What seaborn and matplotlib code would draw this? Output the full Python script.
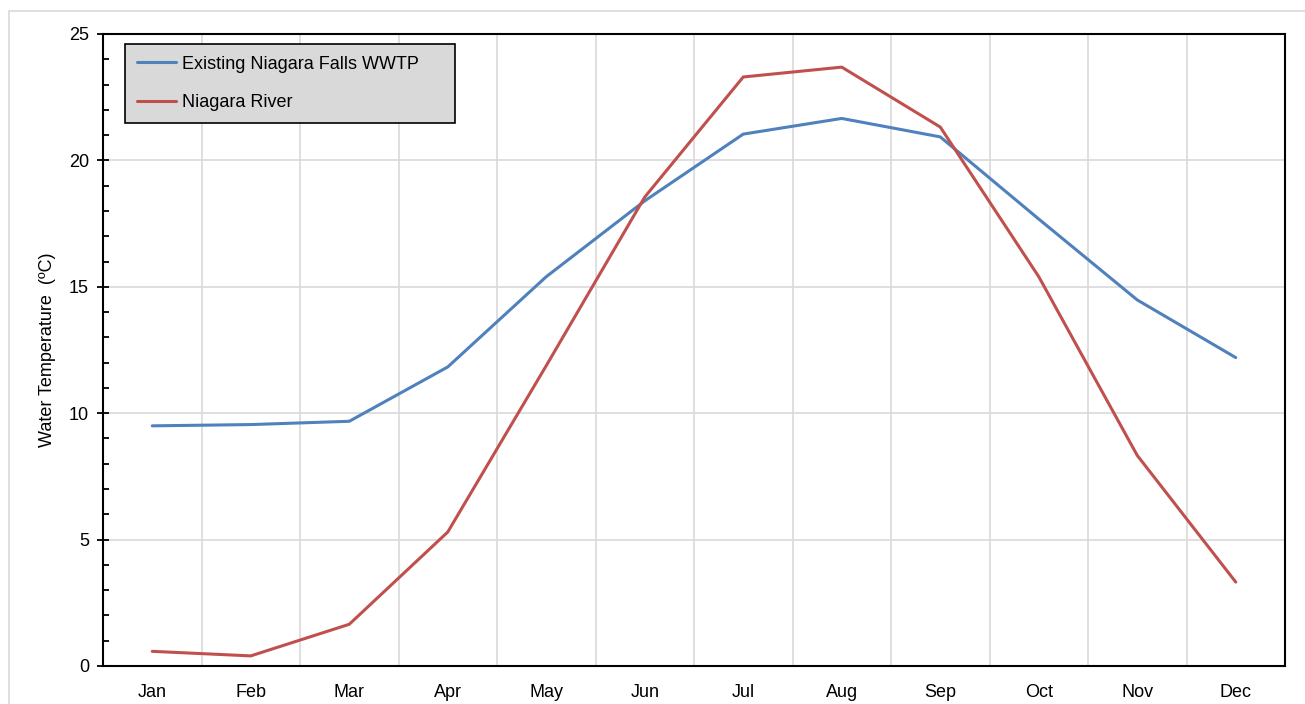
import numpy as np
import pandas as pd
import matplotlib
matplotlib.use('Agg')
import matplotlib.pyplot as plt
import seaborn as sns
from matplotlib.ticker import MultipleLocator, FixedLocator
from matplotlib.patches import Rectangle

# data
months = ['Jan', 'Feb', 'Mar', 'Apr', 'May', 'Jun', 'Jul', 'Aug', 'Sep', 'Oct', 'Nov', 'Dec']
wwtp = [9.50, 9.55, 9.68, 11.83, 15.40, 18.40, 21.04, 21.66, 20.93, 17.68, 14.48, 12.20]
river = [0.58, 0.40, 1.65, 5.30, 11.88, 18.55, 23.30, 23.69, 21.32, 15.40, 8.33, 3.32]
series_names = ['Existing Niagara Falls WWTP', 'Niagara River']
colors = ['#4f81bd', '#c0504d']

df = pd.DataFrame({
    'month': months * 2,
    'temp': wwtp + river,
    'series': [series_names[0]] * 12 + [series_names[1]] * 12,
})

sns.set_style('white')
plt.rcParams['font.family'] = ['Liberation Sans', 'DejaVu Sans']
plt.rcParams['text.color'] = 'black'
plt.rcParams['axes.labelcolor'] = 'black'
plt.rcParams['xtick.color'] = 'black'
plt.rcParams['ytick.color'] = 'black'

fig = plt.figure(figsize=(13.05, 7.04), dpi=100)
ax = fig.add_axes([103 / 1305, 1 - 666 / 704, (1285 - 103) / 1305, (666 - 34) / 704])

# light frame around the chart area
fig.patches.append(Rectangle((9 / 1305, -0.1), 1.2, 1 - 11 / 704 + 0.1, transform=fig.transFigure,
                             fill=False, edgecolor='#d9d9d9', linewidth=1.2, zorder=0))

sns.lineplot(data=df, x='month', y='temp', hue='series', palette=colors,
             linewidth=2.2, ax=ax, sort=False)

ax.set_xlim(-0.5, 11.5)
ax.set_ylim(0, 25)
ax.yaxis.set_major_locator(MultipleLocator(5))
ax.yaxis.set_minor_locator(MultipleLocator(1))
ax.xaxis.set_major_locator(FixedLocator(np.arange(12)))
ax.set_xticklabels(months)
ax.xaxis.set_minor_locator(FixedLocator(np.arange(-0.5, 12, 1)))

ax.grid(True, which='major', axis='y', color='#d9d9d9', linewidth=1.2)
ax.grid(True, which='minor', axis='x', color='#d9d9d9', linewidth=1.2)
ax.set_axisbelow(True)

for s in ax.spines.values():
    s.set_color('black')
    s.set_linewidth(1.5)
    s.set_visible(True)

ax.tick_params(axis='x', which='major', length=0, labelsize=13, pad=13)
ax.tick_params(axis='x', which='minor', length=8, direction='inout', width=1.3, color='black')
ax.tick_params(axis='y', which='major', length=8, direction='inout', width=1.3, labelsize=13,
               left=True, color='black', pad=6)
ax.tick_params(axis='y', which='minor', length=4, direction='in', width=1.3, left=True, color='black')

ax.set_xlabel('')
ax.set_ylabel('Water Temperature  (ºC)', fontsize=13)
ax.yaxis.set_label_coords(-47 / 1182, 0.5)

leg = ax.legend(loc='upper left', bbox_to_anchor=(22 / 1182, 1 - 10 / 632), fontsize=13,
                frameon=True, fancybox=False, edgecolor='black', facecolor='#d9d9d9',
                handlelength=2.2, handletextpad=0.3, labelspacing=1.2, borderpad=0.65,
                borderaxespad=0)
leg.get_frame().set_linewidth(1.2)
leg.get_frame().set_alpha(1)
leg.set_title(None)
# pad the legend box to the right like the reference
for t in leg.get_texts():
    t.set_text(t.get_text() + '     ')

fig.savefig('out.png', dpi=100)
